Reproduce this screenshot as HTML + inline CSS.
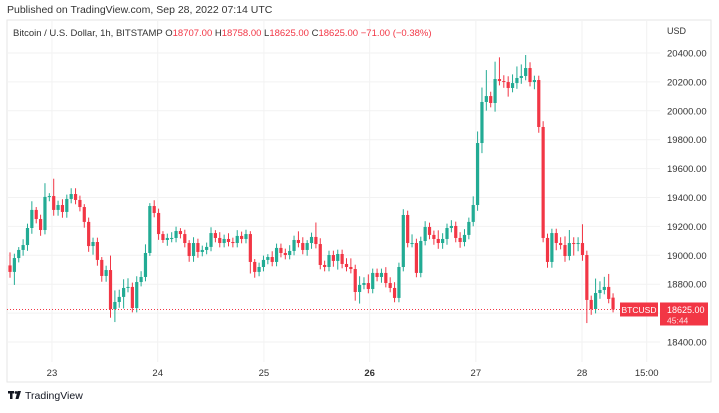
<!DOCTYPE html>
<html><head><meta charset="utf-8"><style>
html,body{margin:0;padding:0;background:#fff;}
body{width:719px;height:408px;overflow:hidden;font-family:"Liberation Sans",sans-serif;}
svg text{font-family:"Liberation Sans",sans-serif;}
</style></head><body>
<svg id="chart" width="719" height="408" xmlns="http://www.w3.org/2000/svg">
<text x="7" y="13" font-size="10.5" fill="#333">Published on TradingView.com, Sep 28, 2022 07:14 UTC</text>
<rect x="7" y="20" width="704" height="362" fill="none" stroke="#e6e6e6"/>
<g id="grid"></g>
<g id="candles"></g>
<g id="axes"></g>
<text x="13" y="36" font-size="9.5" fill="#333">Bitcoin / U.S. Dollar, 1h, BITSTAMP  <tspan fill="#333">O</tspan><tspan fill="#f23645">18707.00</tspan> <tspan fill="#333">H</tspan><tspan fill="#f23645">18758.00</tspan> <tspan fill="#333">L</tspan><tspan fill="#f23645">18625.00</tspan> <tspan fill="#333">C</tspan><tspan fill="#f23645">18625.00 −71.00 (−0.38%)</tspan></text>
<text x="667" y="34" font-size="9" fill="#333">USD</text>
<g>
<rect x="8" y="391" width="6" height="2.5" fill="#131722"/><rect x="10" y="391" width="2.5" height="8" fill="#131722"/>
<circle cx="16" cy="392.5" r="1.4" fill="#131722"/><path d="M17.5 391 L21 391 L18.5 399 L15.5 399 Z" fill="#131722"/>
<text x="25" y="399" font-size="10.5" fill="#131722">TradingView</text></g>
</svg>
<script>
const closes=[18885,18981,19037,19071,19189,19314,19251,19175,19404,19410,
19314,19348,19300,19390,19424,19383,19334,19231,19064,19092,
18968,18857,18898,18628,18677,18712,18774,18781,18635,18815,
18850,19016,19341,19293,19147,19106,19120,19120,19168,19147,
19085,18995,19085,19023,19037,19058,19154,19120,19085,19113,
19092,19085,19134,19113,19147,18954,18885,18919,18968,18988,
18954,19051,19016,19002,19030,19106,19085,19037,19085,19127,
19078,18933,18919,19002,18961,19009,18940,18919,18905,18746,
18795,18808,18767,18878,18850,18878,18808,18774,18705,18919,
19279,19085,19085,18878,19099,19196,19141,19113,19085,19113,
19189,19203,19120,19092,19141,19231,19348,19777,20061,20102,
20054,20220,20206,20199,20158,20192,20227,20241,20296,20199,
20213,19888,19120,18954,19154,19085,19071,18995,19085,19078,
19085,19002,18691,18628,18739,18760,18781,18698,18625];
const firstOpen=18930;
const lastOpen=18707;
const upWick=[90,30,20,40,30,60,20,30,95,20,
120,30,40,30,40,40,30,20,30,30,
30,20,30,100,80,50,60,60,30,40,
40,60,20,40,30,20,30,40,30,20,
30,20,40,30,30,30,40,20,40,30,
40,30,40,30,30,20,20,30,30,20,
40,30,30,30,40,30,60,40,20,30,
100,40,30,30,30,30,30,40,60,30,
60,40,60,30,30,30,40,40,40,30,
40,30,60,30,30,40,30,30,60,40,
30,40,30,40,40,30,60,80,100,180,
30,120,150,40,40,60,80,80,90,40,
30,30,40,30,30,30,40,60,90,40,
40,130,30,30,100,60,70,90,30];
const downWick=[40,90,30,40,40,40,30,40,30,30,
40,40,40,40,30,30,30,40,40,60,
40,40,40,60,90,40,80,30,30,30,
30,30,20,30,40,20,40,30,30,30,
30,40,40,40,30,30,30,30,30,30,
30,30,30,30,30,80,40,30,30,30,
30,30,30,30,30,30,30,30,40,40,
30,30,30,30,40,60,30,30,30,60,
80,30,30,30,30,40,30,30,30,30,
30,30,30,30,30,30,30,40,40,40,
40,30,30,40,30,30,30,40,70,60,
30,60,30,40,60,30,40,40,30,30,
50,40,30,40,40,50,30,40,30,80,
50,40,160,40,30,40,30,30,20];
const priceTicks=[18400,18600,18800,19000,19200,19400,19600,19800,20000,20200,20400];
const timeLabels=["23","24","25","26","27","28","15:00"];
const timeIndex=[9.6,33.8,58.1,82.3,106.6,130.9,145.7];
const lastPrice=18625;

const NS="http://www.w3.org/2000/svg";
function y(p){return 53+(20400-p)*0.1445;}
function x(i){return 10+i*4.37;}
function mk(tag,attrs,parent){const e=document.createElementNS(NS,tag);for(const k in attrs)e.setAttribute(k,attrs[k]);parent.appendChild(e);return e;}
const grid=document.getElementById('grid'),cg=document.getElementById('candles'),ax=document.getElementById('axes');
priceTicks.forEach(p=>{
  const l=mk('line',{x1:7,x2:660,y1:y(p),y2:y(p),stroke:'#f2f2f2'},grid);
  
  
  const t=mk('text',{x:667,y:y(p)+3.5,'font-size':9.5,fill:'#333'},ax);
  t.textContent=p.toFixed(2);
  
  
});
timeLabels.forEach((s,k)=>{
  const xx=x(timeIndex[k]);
  const l=mk('line',{x1:xx,x2:xx,y1:20,y2:362,stroke:'#f2f2f2'},grid);
  
  
  const t=mk('text',{x:xx,y:376,'font-size':9.5,fill:'#333','text-anchor':'middle','font-weight':s==='26'?'bold':'normal'},ax);
  t.textContent=s;
  
  
});
closes.forEach((c,i)=>{
  let o=i===0?firstOpen:closes[i-1];
  if(i===closes.length-1)o=lastOpen;
  const up=c>=o,col=up?'#22ab94':'#f23645';
  const hi=Math.max(o,c)+upWick[i],lo=Math.min(o,c)-downWick[i];
  const g=mk('g',{},cg);
  
  
  mk('line',{x1:x(i),x2:x(i),y1:y(hi),y2:y(lo),stroke:col,'stroke-width':1},g);
  const top=y(Math.max(o,c)),h=Math.max(1,y(Math.min(o,c))-top);
  mk('rect',{x:x(i)-1.6,y:top,width:3.2,height:h,fill:col},g);
});
const ly=y(lastPrice);
const pl=mk('line',{x1:7,x2:620,y1:ly,y2:ly,stroke:'#f23645','stroke-dasharray':'1,2','stroke-width':1},ax);


const sb=mk('rect',{x:620,y:ly-7,width:38,height:14,fill:'#f23645'},ax);


const st=mk('text',{x:639,y:ly+3.5,'font-size':8.5,fill:'#fff','text-anchor':'middle'},ax);
st.textContent='BTCUSD';


const pb=mk('rect',{x:660,y:ly-7,width:48,height:23,fill:'#f23645'},ax);


const pt=mk('text',{x:667,y:ly+3.5,'font-size':9,fill:'#fff'},ax);
pt.textContent=lastPrice.toFixed(2);


const ct=mk('text',{x:667,y:ly+14,'font-size':8.5,fill:'#fde0e2'},ax);
ct.textContent='45:44';


</script>
</body></html>
